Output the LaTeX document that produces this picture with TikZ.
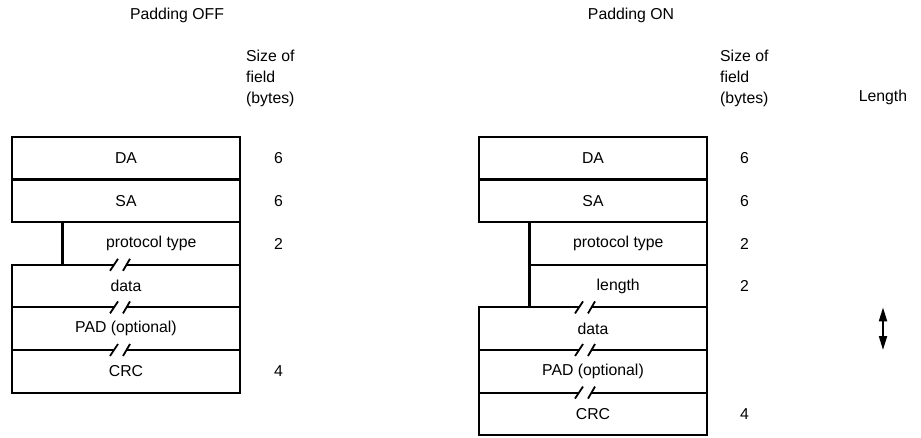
\documentclass[tikz,border=0pt]{standalone}
\usepackage{fontspec}
\setmainfont{Liberation Sans}
\usepackage{tikz}
\usetikzlibrary{positioning, arrows.meta, calc}
\tikzset{
  field/.style={
    draw, line width=2.2pt, minimum width=228pt, minimum height=42.6pt,
    inner sep=0pt, outer sep=0pt, font=\fontsize{15.8}{18}\selectfont
  },
  shortfield/.style={field, minimum width=177.5pt},
  sizenum/.style={anchor=west, inner sep=0pt, font=\fontsize{15.8}{18}\selectfont},
  heading/.style={inner sep=0pt, font=\fontsize{15.8}{18}\selectfont},
  colhead/.style={anchor=west, align=left, inner sep=0pt, font=\fontsize{15.8}{21}\selectfont},
  lenarrow/.style={<->, >={Triangle[length=14pt,width=8pt]}, line width=2pt},
  brk/.pic={
    \fill[white] (-6,-2.6) rectangle (6.5,2.6);
    \draw[line width=1.8pt] (-10,6) -- (-2,-6) (3,6) -- (10,-6);
  },
}

\begin{document}
\begin{tikzpicture}[x=1pt, y=-1pt]
  \useasboundingbox (0,0) rectangle (921,438);
  % padding off
  \node[heading] (offhdr) at (177,15) {Padding OFF};
  \node[colhead] (szhdr1) at (246,78) {Size of\\field\\(bytes)};
  \node[field, anchor=north west] (da1) at (12,137) {DA};
  \node[field, below=0pt of da1] (sa1) {SA};
  \node[shortfield, anchor=north east] (pt1) at (sa1.south east) {protocol type};
  \node[field, anchor=north east] (data1) at (pt1.south east) {data};
  \node[field, below=0pt of data1] (pad1) {PAD (optional)};
  \node[field, below=0pt of pad1] (crc1) {CRC};
  \foreach \f/\n in {da1/6, sa1/6, pt1/2, crc1/4}
    \node[sizenum, right=34pt of \f] (\f-n) {\n};
  \foreach \f in {data1, pad1, crc1}
    \pic at ($(\f.north)+(-6,0)$) {brk};

  % padding on
  \node[heading] (onhdr) at (631,15) {Padding ON};
  \node[colhead] (szhdr2) at (720,78) {Size of\\field\\(bytes)};
  \node[heading] (lenlbl) at (883,97) {Length};
  \node[field, anchor=north west] (da2) at (479,137) {DA};
  \node[field, below=0pt of da2] (sa2) {SA};
  \node[shortfield, anchor=north east] (pt2) at (sa2.south east) {protocol type};
  \node[shortfield, below=0pt of pt2] (len2) {length};
  \node[field, anchor=north east] (data2) at (len2.south east) {data};
  \node[field, below=0pt of data2] (pad2) {PAD (optional)};
  \node[field, below=0pt of pad2] (crc2) {CRC};
  \foreach \f/\n in {da2/6, sa2/6, pt2/2, len2/2, crc2/4}
    \node[sizenum, right=33pt of \f] (\f-n) {\n};
  \foreach \f in {data2, pad2, crc2}
    \pic at ($(\f.north)+(-8,0)$) {brk};

  \coordinate (lentop) at (lenlbl |- data2.north);
  \coordinate (lenbot) at (lenlbl |- data2.south);
  \draw[lenarrow] (lentop) -- (lenbot);
\end{tikzpicture}
\end{document}
